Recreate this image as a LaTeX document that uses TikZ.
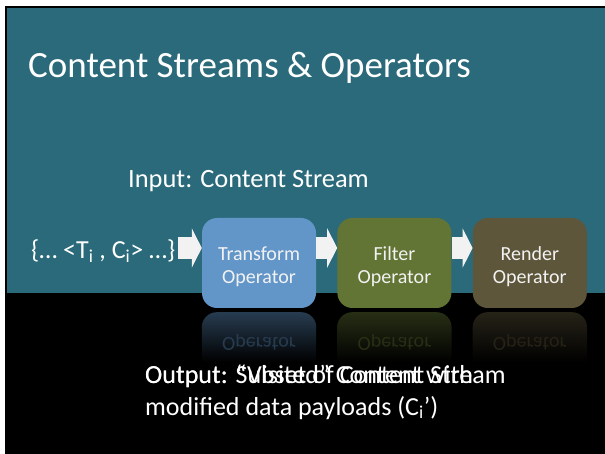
\documentclass[tikz,border=0pt]{standalone}
\usepackage{fontspec}
\setmainfont{Carlito}
\usetikzlibrary{positioning,arrows.meta}

\definecolor{slideteal}{RGB}{42,106,122}
\definecolor{trblue}{RGB}{98,150,201}
\definecolor{fiolive}{RGB}{98,117,52}
\definecolor{rebrown}{RGB}{94,86,58}
\definecolor{arrowgray}{RGB}{242,242,242}

\begin{document}
\begin{tikzpicture}[x=1pt,y=-1pt,
    opbox/.style={rounded corners=15pt, minimum width=114pt, minimum height=90pt,
        align=center, text=white!95!black, text height=47pt, text depth=5pt,
        font=\fontsize{20}{24}\selectfont},
    flowarrow/.style={arrowgray, line width=22pt, -{Triangle[width=39pt,length=10pt]}},
    slidetext/.style={anchor=base west, inner sep=0pt, text=white},
    ]
    \useasboundingbox (0,0) rectangle (605,454);

    % slide background
    \fill[black] (5,6) rectangle (605,454);
    \fill[slideteal] (7,8) rectangle (605,293);

    \node[slidetext, font=\fontsize{37}{44}\selectfont] (title) at (28,78) {Content Streams \& Operators};
    \node[slidetext, font=\fontsize{26.4}{31}\selectfont] (input) at (128,188) {Input: Content Stream};
    \node[slidetext, font=\fontsize{26}{31}\selectfont] (src) at (31,259) {\{… <T\textsubscript{i} , C\textsubscript{i}> …\}};

    % operators
    \node[opbox, fill=trblue] (tr) at (259,263) {Transform\\Operator};
    \node[opbox, fill=fiolive, right=21pt of tr] (fi) {Filter\\Operator};
    \node[opbox, fill=rebrown, right=21pt of fi] (re) {Render\\Operator};

    \coordinate (flow) at ([yshift=11pt]src.base east);
    \draw[flowarrow, shorten <=3pt] (flow) -- (flow -| tr.west);
    \draw[flowarrow] (flow -| tr.east) -- (flow -| fi.west);
    \draw[flowarrow] (flow -| fi.east) -- (flow -| re.west);

    % reflections
    \foreach \b/\c in {tr/trblue, fi/fiolive, re/rebrown}{
        \shade[top color=\c!40!black, bottom color=black, rounded corners=15pt]
            ([yshift=-54pt]\b.south west) -- ([yshift=-4pt]\b.south west)
            -- ([yshift=-4pt]\b.south east) -- ([yshift=-54pt]\b.south east);
        \node[yscale=-1, text=\c!40!black, font=\fontsize{20}{24}\selectfont] (\b-mirror)
            at ([yshift=-34pt]\b.south) {Operator};
    }

    % output, two texts laid over each other
    \node[slidetext, font=\fontsize{26}{32}\selectfont] (outa) at (145,383) {Output: Subset of Content Stream};
    \node[slidetext, font=\fontsize{26}{32}\selectfont, align=left] (outb) at (145,415)
        {Output: “Visited” Content with\\modified data payloads (C\textsubscript{i}’)};
\end{tikzpicture}
\end{document}
